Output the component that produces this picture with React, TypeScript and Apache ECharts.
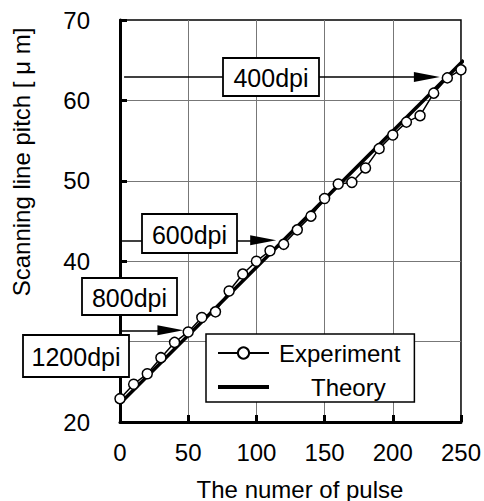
import React, { useEffect, useRef } from "react";
import * as echarts from "echarts";

const pulses = [0, 10, 20, 30, 40, 50, 60, 70, 80, 90, 100, 110, 120, 130, 140, 150, 160, 170, 180, 190, 200, 210, 220, 230, 240, 250];
const pitch = [22.9, 24.7, 26.0, 28.0, 29.9, 31.2, 33.0, 33.7, 36.3, 38.4, 40.0, 41.3, 42.1, 43.9, 45.6, 47.8, 49.6, 49.8, 51.6, 54.0, 55.7, 57.3, 58.1, 60.9, 62.8, 63.8];
const theoryX = [0, 252];
const theoryY = [22.3, 65.0];

const arrowPitch = [62.9, 42.6, 31.4];
const arrowStart = [3, 1.5, 0];
const arrowEnd = [225, 105, 37];

// tick label hidden behind the 1200dpi box in the reference
const hiddenYTicks = [30];

const dpiLabels = ["400dpi", "600dpi", "800dpi", "1200dpi"];
const boxes = [
  { x: 223, y: 58, w: 96, h: 38 },
  { x: 142, y: 214, w: 95, h: 39 },
  { x: 82, y: 278, w: 95, h: 37 },
  { x: 23, y: 335, w: 106, h: 42 },
];

const FONT = "'Liberation Sans', Arial, sans-serif";

export default function App() {
  const ref = useRef<HTMLDivElement>(null);
  useEffect(() => {
    const chart = echarts.init(ref.current!, null, { renderer: "svg" });
    const expData = pulses.map((p, i) => [p, pitch[i]]);
    const thData = theoryX.map((x, i) => [x, theoryY[i]]);
    const markData = arrowPitch.map((y, i) => [
      { coord: [arrowStart[i], y] },
      { coord: [arrowEnd[i], y] },
    ]);
    const graphics: any[] = [];
    boxes.forEach((b, i) => {
      graphics.push({
        type: "rect",
        z: 100,
        shape: { x: b.x, y: b.y, width: b.w, height: b.h },
        style: { fill: "#fff", stroke: "#000", lineWidth: 1.8 },
      });
      graphics.push({
        type: "text",
        z: 101,
        x: b.x + b.w / 2,
        y: b.y + b.h / 2 + 1,
        style: {
          text: dpiLabels[i],
          font: `25px ${FONT}`,
          fill: "#000",
          align: "center",
          verticalAlign: "middle",
        },
      });
    });
    graphics.push({
      type: "text",
      z: 101,
      x: 21,
      y: 162,
      rotation: Math.PI / 2,
      style: {
        text: "Scanning line pitch [ μ m]",
        font: `24px ${FONT}`,
        fill: "#000",
        align: "center",
        verticalAlign: "middle",
      },
    });
    graphics.push({
      type: "text",
      z: 101,
      x: 300,
      y: 489,
      style: {
        text: "The numer of pulse",
        font: `24px ${FONT}`,
        fill: "#000",
        align: "center",
        verticalAlign: "middle",
      },
    });

    const option: any = {
      animation: false,
      backgroundColor: "#fff",
      grid: {
        left: 120,
        right: 19,
        top: 20,
        bottom: 79,
        show: true,
        borderColor: "#000",
        borderWidth: 1.5,
        backgroundColor: "transparent",
      },
      xAxis: {
        type: "value",
        min: 0,
        max: 250,
        interval: 50,
        axisLine: { show: true, lineStyle: { color: "#000", width: 3 } },
        axisTick: { show: true, inside: true, length: 7, lineStyle: { color: "#000", width: 3 } },
        axisLabel: { fontSize: 24, color: "#000", fontFamily: FONT, margin: 18 },
        splitLine: { show: true, showMinLine: false, showMaxLine: false, lineStyle: { color: "#777", width: 1 } },
      },
      yAxis: {
        type: "value",
        min: 20,
        max: 70,
        interval: 10,
        axisLine: { show: true, lineStyle: { color: "#000", width: 3 } },
        axisTick: { show: true, inside: true, length: 7, lineStyle: { color: "#000", width: 3 } },
        axisLabel: {
          fontSize: 24,
          color: "#000",
          fontFamily: FONT,
          margin: 30,
          formatter: (v: number) => (hiddenYTicks.includes(v) ? "" : String(v)),
        },
        splitLine: { show: true, showMinLine: false, showMaxLine: false, lineStyle: { color: "#777", width: 1 } },
      },
      legend: {
        orient: "vertical",
        left: 206,
        top: 334,
        padding: [7, 14, 3, 11],
        itemGap: 10,
        itemWidth: 51,
        itemHeight: 14,
        backgroundColor: "#fff",
        borderColor: "#000",
        borderWidth: 1.5,
        borderRadius: 0,
        data: [
          { name: "Experiment" },
          { name: "Theory", icon: "path://M0,0 H51 V4 H0 Z" },
        ],
        formatter: (name: string) => (name === "Theory" ? `{t|${name}}` : `{e|${name}}`),
        textStyle: {
          fontSize: 24,
          color: "#000",
          fontFamily: FONT,
          rich: {
            e: { fontSize: 24, color: "#000", fontFamily: FONT, padding: [0, 0, 0, 5] },
            t: { fontSize: 24, color: "#000", fontFamily: FONT, padding: [0, 0, 0, 37] },
          },
        },
      },
      graphic: graphics,
      series: [
        {
          name: "Theory",
          type: "line",
          data: thData,
          symbol: "none",
          clip: false,
          z: 3,
          lineStyle: { color: "#000", width: 3.5 },
          itemStyle: { color: "#000" },
          markLine: {
            silent: true,
            symbol: ["none", "triangle"],
            symbolSize: [10, 26],
            label: { show: false },
            lineStyle: { color: "#000", width: 1.5, type: "solid" },
            data: markData,
          },
        },
        {
          name: "Experiment",
          type: "line",
          data: expData,
          symbol: "circle",
          symbolSize: 10,
          z: 4,
          lineStyle: { color: "#000", width: 1.5 },
          itemStyle: { color: "#fff", borderColor: "#000", borderWidth: 1.5 },
        },
      ],
    };
    chart.setOption(option);
    return () => chart.dispose();
  }, []);
  return <div ref={ref} style={{ position: "fixed", left: 0, top: 0, width: 484, height: 501 }} />;
}
